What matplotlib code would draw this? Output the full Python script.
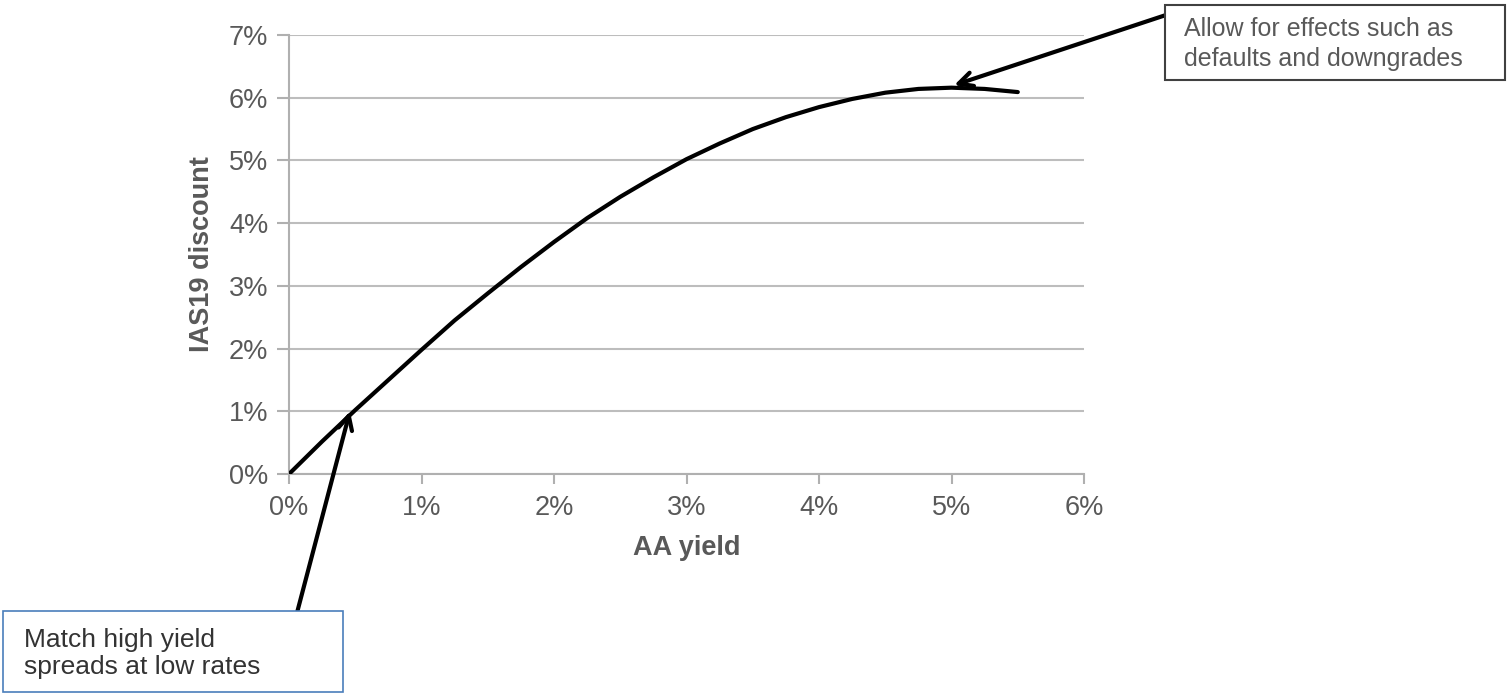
import matplotlib.pyplot as plt
from matplotlib.patches import Rectangle
from matplotlib.ticker import FuncFormatter

# AA yield (%) vs IAS19 discount rate (%)
aa_yield = [0.0, 0.25, 0.5, 0.75, 1.0, 1.25, 1.5, 1.75, 2.0, 2.25, 2.5, 2.75,
            3.0, 3.25, 3.5, 3.75, 4.0, 4.25, 4.5, 4.75, 5.0, 5.25, 5.5]
ias19 = [0.0, 0.52, 1.02, 1.5, 1.98, 2.45, 2.88, 3.3, 3.7, 4.08, 4.42, 4.73,
         5.02, 5.27, 5.5, 5.69, 5.85, 5.98, 6.08, 6.14, 6.16, 6.14, 6.09]

x_ticks = [0, 1, 2, 3, 4, 5, 6]
y_ticks = [0, 1, 2, 3, 4, 5, 6, 7]

note_top = "Allow for effects such as\ndefaults and downgrades"
note_bottom = "Match high yield\nspreads at low rates"

plt.rcParams['font.family'] = ['Liberation Sans', 'DejaVu Sans']
grey = '#595959'

fig = plt.figure(figsize=(15.1, 6.97), dpi=100)
ax = fig.add_axes([0.1914, 0.3199, 0.5265, 0.6299])

ax.plot(aa_yield, ias19, color='black', linewidth=3, solid_capstyle='round',
        solid_joinstyle='round', zorder=3)

ax.set_xlim(0, 6)
ax.set_ylim(0, 7)
ax.set_xticks(x_ticks)
ax.set_yticks(y_ticks)
pct = FuncFormatter(lambda v, p: f"{v:.0f}%")
ax.xaxis.set_major_formatter(pct)
ax.yaxis.set_major_formatter(pct)

# excel-ish look: horizontal grid only, grey axis lines
ax.grid(axis='y', color='#bdbdbd', linewidth=1.5)
ax.set_axisbelow(True)
for s in ['top', 'right']:
    ax.spines[s].set_visible(False)
for s in ['left', 'bottom']:
    ax.spines[s].set_color('#b0b0b0')
    ax.spines[s].set_linewidth(1.5)
ax.tick_params(axis='x', colors='#b0b0b0', length=7, width=1.5, labelcolor=grey,
               labelsize=19.5, pad=8)
ax.tick_params(axis='y', colors='#b0b0b0', length=9, width=1.5, labelcolor=grey,
               labelsize=19.5, pad=6)

ax.set_xlabel("AA yield", fontsize=19.5, fontweight='bold', color=grey, labelpad=10)
ax.set_ylabel("IAS19 discount", fontsize=19.5, fontweight='bold', color=grey, labelpad=10)

# note boxes
fig.add_artist(Rectangle((0.7715, 0.8852), 0.2252, 0.1076, transform=fig.transFigure,
                         facecolor='white', edgecolor='#404040', linewidth=1.5))
fig.text(0.784, 0.937, note_top, fontsize=18, color=grey, va='center', ha='left',
         linespacing=1.3)

fig.add_artist(Rectangle((0.002, 0.0072), 0.225, 0.1162, transform=fig.transFigure,
                         facecolor='white', edgecolor='#4a7ebb', linewidth=1.2))
fig.text(0.016, 0.063, note_bottom, fontsize=19, color='#333333', va='center', ha='left',
         linespacing=1.15)

arrow = dict(arrowstyle='->', color='black', lw=3, mutation_scale=25, shrinkA=0, shrinkB=0)
ax.annotate("", xy=(5.02, 6.2), xycoords='data',
            xytext=(0.7715, 0.978), textcoords='figure fraction', arrowprops=arrow)
ax.annotate("", xy=(0.46, 1.0), xycoords='data',
            xytext=(0.197, 0.1234), textcoords='figure fraction', arrowprops=arrow)

fig.savefig("out.png", dpi=100)
